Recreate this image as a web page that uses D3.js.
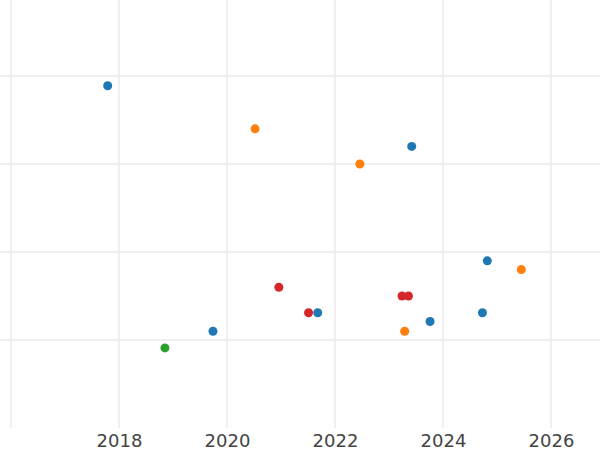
<!DOCTYPE html>
<html>
<head>
<meta charset="utf-8">
<script src="https://cdn.jsdelivr.net/npm/d3@7"></script>
<style>
  html, body { margin: 0; padding: 0; background: #fff; }
  svg { display: block; }
</style>
</head>
<body>
<div id="chart"></div>
<script>
// Data
const years  = [2017.79, 2020.52, 2022.46, 2023.42, 2024.82, 2025.45, 2020.96, 2021.51, 2021.68, 2023.24, 2023.36, 2023.29, 2023.76, 2024.73, 2019.74, 2018.85];
const values = [3.89, 3.40, 3.00, 3.20, 1.90, 1.80, 1.60, 1.31, 1.31, 1.50, 1.50, 1.10, 1.21, 1.31, 1.10, 0.91];
const groups = ["A", "B", "B", "A", "A", "B", "D", "D", "A", "D", "D", "B", "A", "A", "A", "C"];
const groupNames = ["A", "B", "C", "D"];
const groupColors = ["#1f77b4", "#ff7f0e", "#2ca02c", "#d62728"];
const xTicks = [2016, 2018, 2020, 2022, 2024, 2026];
const xTickLabels = ["", "2018", "2020", "2022", "2024", "2026"];
const yGrid = [1, 2, 3, 4];

const W = 600, H = 450;
const plot = { left: 0, right: 600, top: 0, bottom: 428 };

const svg = d3.select("#chart").append("svg").attr("width", W).attr("height", H);

const x = d3.scaleLinear().domain([2015.796, 2026.907]).range([plot.left, plot.right]);
const y = d3.scaleLinear().domain([0, 4.864]).range([plot.bottom, plot.top]);
const color = d3.scaleOrdinal().domain(groupNames).range(groupColors);

// gridlines
svg.append("g").selectAll("line").data(xTicks).join("line")
  .attr("x1", d => x(d)).attr("x2", d => x(d))
  .attr("y1", plot.top).attr("y2", plot.bottom)
  .attr("stroke", "#ebebeb").attr("stroke-width", 1.5);

svg.append("g").selectAll("line").data(yGrid).join("line")
  .attr("x1", plot.left).attr("x2", plot.right)
  .attr("y1", d => y(d)).attr("y2", d => y(d))
  .attr("stroke", "#ebebeb").attr("stroke-width", 1.5);

// x axis labels
const xAxis = d3.axisBottom(x).tickValues(xTicks)
  .tickFormat((d, i) => xTickLabels[i]).tickSize(0).tickPadding(6);
const gx = svg.append("g").attr("transform", `translate(0,${plot.bottom})`).call(xAxis);
gx.select(".domain").remove();
gx.selectAll("text")
  .attr("font-family", "DejaVu Sans, sans-serif")
  .attr("font-size", 18)
  .attr("fill", "#444");

// points
svg.append("g").selectAll("circle").data(years.map((v, i) => i)).join("circle")
  .attr("cx", i => x(years[i]))
  .attr("cy", i => y(values[i]))
  .attr("r", 4.5)
  .attr("fill", i => color(groups[i]));
</script>
</body>
</html>
